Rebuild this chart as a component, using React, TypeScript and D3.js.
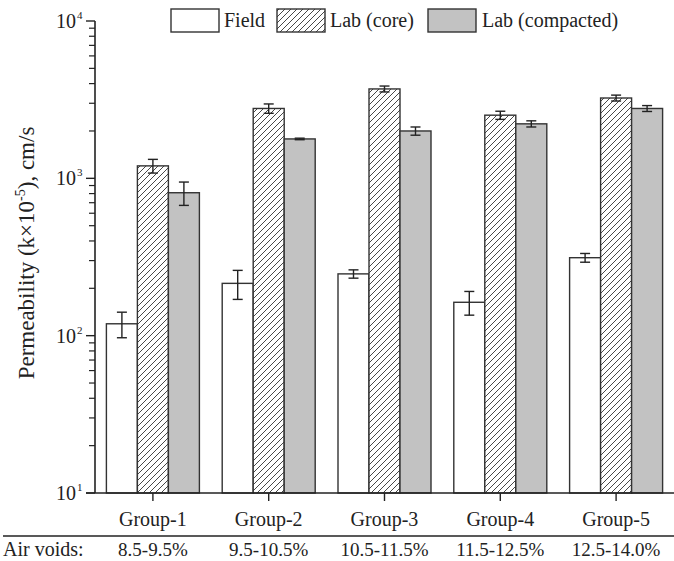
import React from 'react';
import * as d3 from 'd3';

const groups = ['Group-1', 'Group-2', 'Group-3', 'Group-4', 'Group-5'];
const airVoids = ['8.5-9.5%', '9.5-10.5%', '10.5-11.5%', '11.5-12.5%', '12.5-14.0%'];
const seriesNames = ['Field', 'Lab (core)', 'Lab (compacted)'];

const field = [119, 215, 247, 163, 313];
const fieldErr = [22, 45, 15, 28, 20];
const labCore = [1200, 2780, 3700, 2520, 3240];
const labCoreErr = [120, 190, 160, 150, 140];
const labCompacted = [810, 1780, 2000, 2220, 2780];
const labCompactedErr = [137, 20, 120, 100, 120];

const yTickExps = [1, 2, 3, 4];

const W = 674;
const H = 561;
const FONT = "'Times New Roman', Times, 'Liberation Serif', serif";
const INK = '#222';

export default function App() {
  const x = d3.scaleBand<string>().domain(groups).range([95, 674]).padding(0);
  const y = d3.scaleLog().domain([10, 10000]).range([493, 21]);
  const barW = 31;
  const inner = d3
    .scaleBand<string>()
    .domain(seriesNames)
    .range([0, barW * 3]);

  const series = [
    { name: seriesNames[0], values: field, errs: fieldErr, fill: '#fff' },
    { name: seriesNames[1], values: labCore, errs: labCoreErr, fill: 'url(#hatch)' },
    { name: seriesNames[2], values: labCompacted, errs: labCompactedErr, fill: '#c2c2c2' },
  ];

  const groupLeft = (g: string) => (x(g) as number) + x.bandwidth() / 2 - (barW * 3) / 2;

  // minor ticks 2..9 per decade
  const minorTicks: number[] = [];
  for (let e = 1; e < 4; e++) {
    for (let m = 2; m <= 9; m++) minorTicks.push(m * Math.pow(10, e));
  }

  const legend = [
    { name: 'Field', fill: '#fff', bx: 171, tx: 224 },
    { name: 'Lab (core)', fill: 'url(#hatch)', bx: 277, tx: 330 },
    { name: 'Lab (compacted)', fill: '#c2c2c2', bx: 428, tx: 482 },
  ];

  return (
    <div style={{ position: 'absolute', left: 0, top: 0, fontFamily: FONT }}>
      <svg width={W} height={H} style={{ display: 'block', background: '#fff' }}>
        <defs>
          <pattern id="hatch" patternUnits="userSpaceOnUse" width={6} height={6}>
            <rect width={6} height={6} fill="#fff" />
            <path d="M-1,1 l2,-2 M0,6 l6,-6 M5,7 l2,-2" stroke="#333" strokeWidth={0.9} />
          </pattern>
        </defs>

        {/* bars */}
        {series.map((s) =>
          groups.map((g, gi) => {
            const bx = groupLeft(g) + (inner(s.name) as number);
            const top = y(s.values[gi]);
            return (
              <rect
                key={s.name + g}
                x={bx}
                y={top}
                width={barW}
                height={y(10) - top}
                fill={s.fill}
                stroke="#333"
                strokeWidth={1.4}
              />
            );
          })
        )}

        {/* error bars */}
        {series.map((s) =>
          groups.map((g, gi) => {
            const cx = groupLeft(g) + (inner(s.name) as number) + barW / 2;
            const hi = y(s.values[gi] + s.errs[gi]);
            const lo = y(s.values[gi] - s.errs[gi]);
            return (
              <g key={'e' + s.name + g} stroke={INK} strokeWidth={1.4}>
                <line x1={cx} x2={cx} y1={hi} y2={lo} />
                <line x1={cx - 5} x2={cx + 5} y1={hi} y2={hi} />
                <line x1={cx - 5} x2={cx + 5} y1={lo} y2={lo} />
              </g>
            );
          })
        )}

        {/* y axis */}
        <line x1={95} x2={95} y1={y(10000)} y2={y(10)} stroke={INK} strokeWidth={1.6} />
        {minorTicks.map((v) => (
          <line key={'m' + v} x1={89} x2={95} y1={y(v)} y2={y(v)} stroke={INK} strokeWidth={1.2} />
        ))}
        {yTickExps.map((e) => (
          <g key={'t' + e}>
            <line x1={86} x2={95} y1={y(Math.pow(10, e))} y2={y(Math.pow(10, e))} stroke={INK} strokeWidth={1.4} />
            <text x={76} y={y(Math.pow(10, e)) + 7} textAnchor="end" fontSize={20} fill={INK}>
              10
            </text>
            <text x={77} y={y(Math.pow(10, e)) - 2} fontSize={11} fill={INK}>
              {e}
            </text>
          </g>
        ))}

        {/* x axis */}
        <line x1={86} x2={674} y1={y(10)} y2={y(10)} stroke={INK} strokeWidth={1.6} />
        {groups.map((g, i) => {
          const cx = (x(g) as number) + x.bandwidth() / 2;
          return (
            <g key={'x' + g}>
              <line x1={cx} x2={cx} y1={y(10)} y2={y(10) + 8} stroke={INK} strokeWidth={1.4} />
              <text x={cx} y={526} textAnchor="middle" fontSize={20} fill={INK}>
                {g}
              </text>
              <text x={cx} y={556} textAnchor="middle" fontSize={19} fill={INK}>
                {airVoids[i]}
              </text>
            </g>
          );
        })}
        <line x1={3} x2={674} y1={536} y2={536} stroke={INK} strokeWidth={1.4} />
        <text x={3} y={556} fontSize={20} fill={INK}>
          Air voids:
        </text>

        {/* y label */}
        <text
          transform="translate(34,253) rotate(-90)"
          textAnchor="middle"
          fontSize={23}
          fill={INK}
        >
          Permeability (k×10
          <tspan dy={-9} fontSize={14}>-5</tspan>
          <tspan dy={9}>), cm/s</tspan>
        </text>

        {/* legend */}
        {legend.map((l) => (
          <g key={'l' + l.name}>
            <rect x={l.bx} y={9} width={48} height={23} fill={l.fill} stroke="#333" strokeWidth={1.4} />
            <text x={l.tx} y={27} fontSize={20} fill={INK}>
              {l.name}
            </text>
          </g>
        ))}
      </svg>
    </div>
  );
}
